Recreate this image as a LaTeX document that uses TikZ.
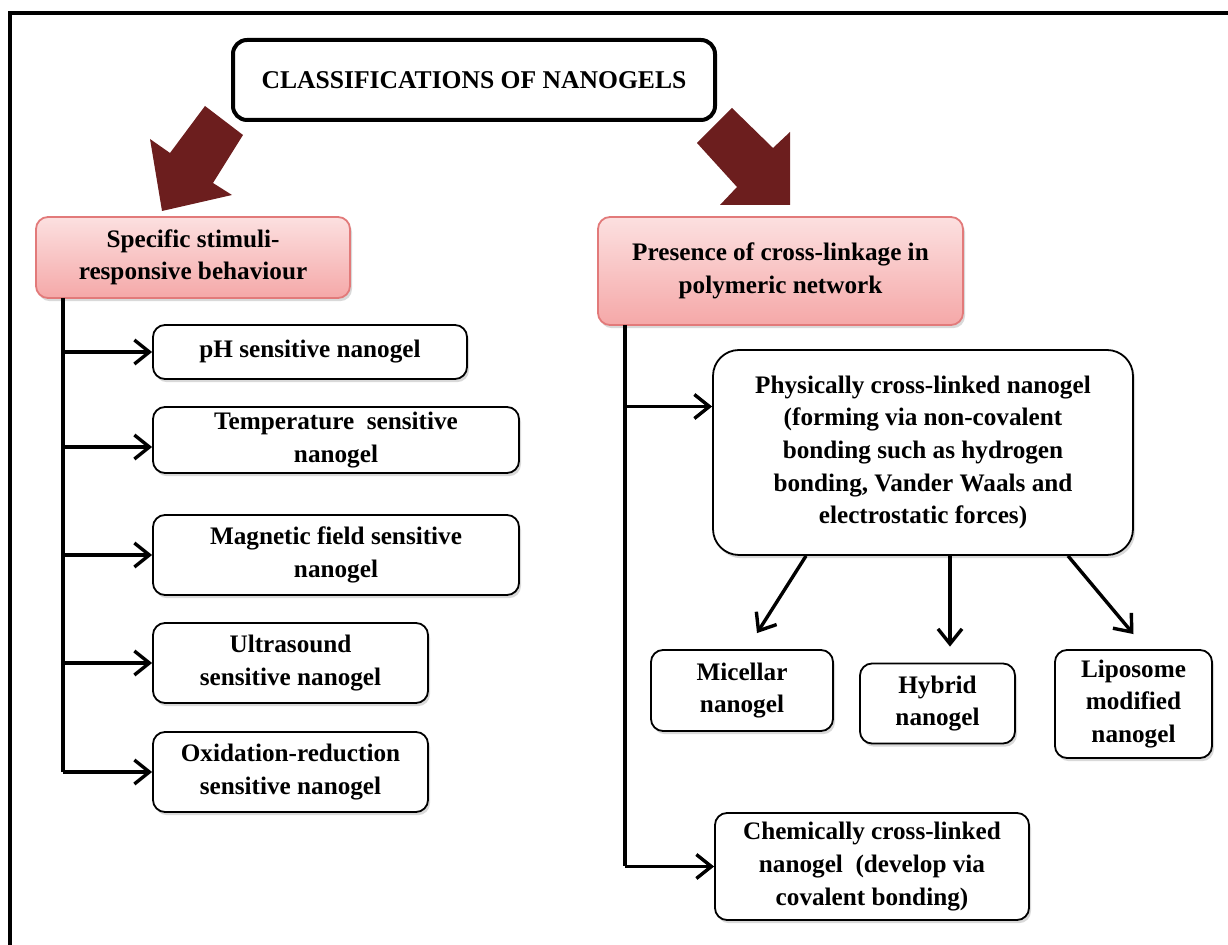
\documentclass[tikz,border=0pt]{standalone}
\usepackage{fontspec}
\setmainfont{Liberation Serif}
\usetikzlibrary{arrows.meta, shadows}

\definecolor{arrowred}{RGB}{108,30,30}
\definecolor{headline}{RGB}{226,122,122}
\definecolor{pinktop}{RGB}{252,224,224}
\definecolor{pinkbot}{RGB}{245,168,168}

\tikzset{
  box/.style={draw=black, line width=0.9pt, rounded corners=6pt, fill=white,
    align=center, inner sep=0pt, font=\bfseries\fontsize{12.6}{16.3}\selectfont,
    drop shadow={shadow xshift=1pt, shadow yshift=-1.6pt, opacity=0.3}},
  headbox/.style={box, draw=headline, top color=pinktop, bottom color=pinkbot},
  titlebox/.style={draw=black, line width=2pt, rounded corners=7pt, fill=white,
    align=center, inner sep=0pt, font=\bfseries\fontsize{12.8}{16.3}\selectfont},
  link/.style={line width=1.7pt, -{Straight Barb[length=7.5pt,width=12pt]}},
  trunk/.style={line width=1.7pt},
}

\begin{document}
\begin{tikzpicture}[x=0.5pt, y=-0.5pt]
  \useasboundingbox (0,0) rectangle (1228,945);

  % Frame
  \draw[line width=2pt] (10,945) -- (10,13) -- (1228,13);

  % Title and the two big arrows
  \node[titlebox, minimum width=241pt, minimum height=40pt] (title) at (474,80) {CLASSIFICATIONS OF NANOGELS};
  \fill[arrowred] (205,106) -- (243,135) -- (213,183) -- (232,195) -- (162,211) -- (150,139) -- (170,153) -- cycle;
  \fill[arrowred] (732,108) -- (773,148) -- (790,132) -- (790,205) -- (720,205) -- (737,187) -- (697,143) -- cycle;

  % Headings
  \node[headbox, minimum width=157pt, minimum height=40.5pt] (spec) at (193,257.5) {Specific stimuli-\\responsive behaviour};
  \node[headbox, minimum width=182.5pt, minimum height=54pt] (cross) at (780.5,271) {Presence of cross-linkage in\\polymeric network};

  % Left branch
  \node[box, minimum width=157pt, minimum height=27pt] (ph) at (310,352) {pH sensitive nanogel};
  \node[box, minimum width=183pt, minimum height=33pt] (temp) at (336,440) {Temperature~ sensitive\\nanogel};
  \node[box, minimum width=183pt, minimum height=40pt] (magn) at (336,555) {Magnetic field sensitive\\nanogel};
  \node[box, minimum width=137.5pt, minimum height=40pt] (ultra) at (290.5,663) {Ultrasound\\sensitive nanogel};
  \node[box, minimum width=137.5pt, minimum height=40pt] (oxid) at (290.5,772) {Oxidation-reduction\\sensitive nanogel};

  \coordinate (ltop) at (63,298);
  \draw[trunk] (ltop) -- (ltop |- oxid.west);
  \foreach \n in {ph, magn, ultra, oxid}
    \draw[link] (ltop |- \n.west) -- (\n.west);
  \coordinate (tin) at ([yshift=-3.5pt]temp.west);
  \draw[link] (ltop |- tin) -- (tin);

  % Right branch
  \node[box, rounded corners=13pt, minimum width=210pt, minimum height=102.5pt] (phys) at (923,452.5)
    {Physically cross-linked nanogel\\(forming via non-covalent\\bonding such as hydrogen\\bonding, Vander Waals and\\electrostatic forces)};
  \node[box, minimum width=91pt, minimum height=40.5pt] (mic) at (742,690.5) {Micellar\\nanogel};
  \node[box, minimum width=77.5pt, minimum height=40pt] (hyb) at (937.5,703.5) {Hybrid\\nanogel};
  \node[box, minimum width=78.5pt, minimum height=54pt] (lipo) at (1133.5,704) {Liposome\\modified\\nanogel};
  \node[box, minimum width=157pt, minimum height=53.5pt] (chem) at (872,866.5) {Chemically cross-linked\\nanogel~ (develop via\\covalent bonding)};

  \coordinate (rtop) at (625,325);
  \draw[trunk] (rtop) -- (rtop |- chem.west);
  \draw[link] (rtop |- chem.west) -- (chem.west);
  \coordinate (pin) at ([yshift=23pt]phys.west);
  \draw[link] (rtop |- pin) -- (pin);

  \draw[link] ([xshift=-58.5pt]phys.south) -- ([xshift=7.5pt,yshift=8pt]mic.north);
  \draw[link] ([xshift=13.5pt]phys.south) -- ([xshift=6.25pt,yshift=8pt]hyb.north);
  \draw[link] ([xshift=72.5pt]phys.south) -- ([yshift=7.5pt]lipo.north);
\end{tikzpicture}
\end{document}
